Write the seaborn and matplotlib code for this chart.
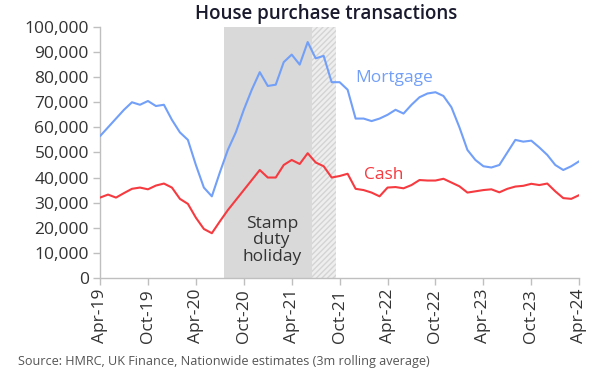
import matplotlib
matplotlib.use("Agg")
import matplotlib.pyplot as plt
import seaborn as sns
import pandas as pd
import numpy as np

months = pd.date_range("2019-04-01", "2024-04-01", freq="MS")
tick_labels = ["Apr-19", "Oct-19", "Apr-20", "Oct-20", "Apr-21", "Oct-21",
               "Apr-22", "Oct-22", "Apr-23", "Oct-23", "Apr-24"]

mortgage = [56.5, 60, 63.5, 67, 70, 69, 70.5, 68.5, 69, 63, 58, 55, 45, 36, 32.5,
            42, 51, 58, 67, 75, 82, 76.5, 77, 86, 89, 85, 94, 87.5, 88.5, 78,
            78, 75, 63.5, 63.5, 62.5, 63.5, 65, 67, 65.5, 69, 72, 73.5, 74, 72.5, 68,
            60, 51, 47, 44.5, 44, 45, 50, 55, 54.3, 54.7, 52, 49, 45, 43, 44.5, 46.5]
cash = [32, 33.2, 32, 33.8, 35.5, 36, 35.3, 36.8, 37.6, 36, 31.5, 29.5, 24, 19.5, 17.8,
        22.5, 27, 31, 35, 39, 43, 40, 40, 45, 47, 45.4, 49.7, 46, 44.5, 40,
        40.6, 41.5, 35.5, 35, 34, 32.5, 36, 36.2, 35.7, 37, 39, 38.8, 38.8, 39.5, 38,
        36.5, 34, 34.5, 35, 35.3, 34.1, 35.5, 36.4, 36.7, 37.5, 37, 37.6, 34.5, 31.8, 31.5, 33]

df = pd.DataFrame({
    "idx": list(range(len(months))) * 2,
    "value": [v * 1000 for v in mortgage] + [v * 1000 for v in cash],
    "series": ["Mortgage"] * len(months) + ["Cash"] * len(months),
})

sns.set_theme(style="white")
plt.rcParams["font.family"] = ["Open Sans", "DejaVu Sans"]

fig = plt.figure(figsize=(5.99, 3.75), dpi=100)
ax = fig.add_axes([0.167, 0.259, 0.8, 0.669])

# Stamp duty holiday shading
ax.axvspan(15.5, 26.5, color="#d9d9d9", lw=0, zorder=0)
ax.axvspan(26.5, 29.5, facecolor="#eeeeee", edgecolor="#d4d4d4", hatch="//////", lw=0, zorder=0)

palette = {"Mortgage": "#729ff8", "Cash": "#f53a40"}
sns.lineplot(data=df, x="idx", y="value", hue="series", palette=palette,
             linewidth=1.5, ax=ax, legend=False, zorder=3)

ax.set_xlim(0, 60)
ax.set_ylim(0, 100000)
ax.set_yticks(np.arange(0, 100001, 10000))
ax.set_yticklabels([f"{v:,}" for v in range(0, 100001, 10000)], fontsize=12.5, color="#333333")
ax.set_xticks(range(0, 61, 6))
ax.set_xticklabels(tick_labels, rotation=90, fontsize=12.5, color="#333333")
ax.set_xlabel("")
ax.set_ylabel("")

for s in ["top", "right"]:
    ax.spines[s].set_visible(False)
for s in ["left", "bottom"]:
    ax.spines[s].set_color("#bfbfbf")
    ax.spines[s].set_linewidth(1)
ax.tick_params(axis="both", which="both", length=5, color="#bfbfbf", width=1, pad=3)
ax.tick_params(axis="y", direction="out", left=True)
ax.tick_params(axis="x", direction="out", bottom=True)

ax.text(32.0, 79500, "Mortgage", color="#729ff8", fontsize=12.5, va="center", ha="left")
ax.text(33.0, 41000, "Cash", color="#f53a40", fontsize=12.5, va="center", ha="left")
ax.text(21.5, 15000, "Stamp\nduty\nholiday", color="#333333", fontsize=12.5,
        ha="center", va="center", linespacing=1.05)

fig.text(0.545, 0.963, "House purchase transactions", fontsize=13.5, fontweight="semibold",
         color="#1a1a2e", ha="center", va="center")
fig.text(0.03, 0.035, "Source: HMRC, UK Finance, Nationwide estimates (3m rolling average)",
         fontsize=9.1, color="#555555", ha="left", va="center")

fig.savefig("out.png", dpi=100)
